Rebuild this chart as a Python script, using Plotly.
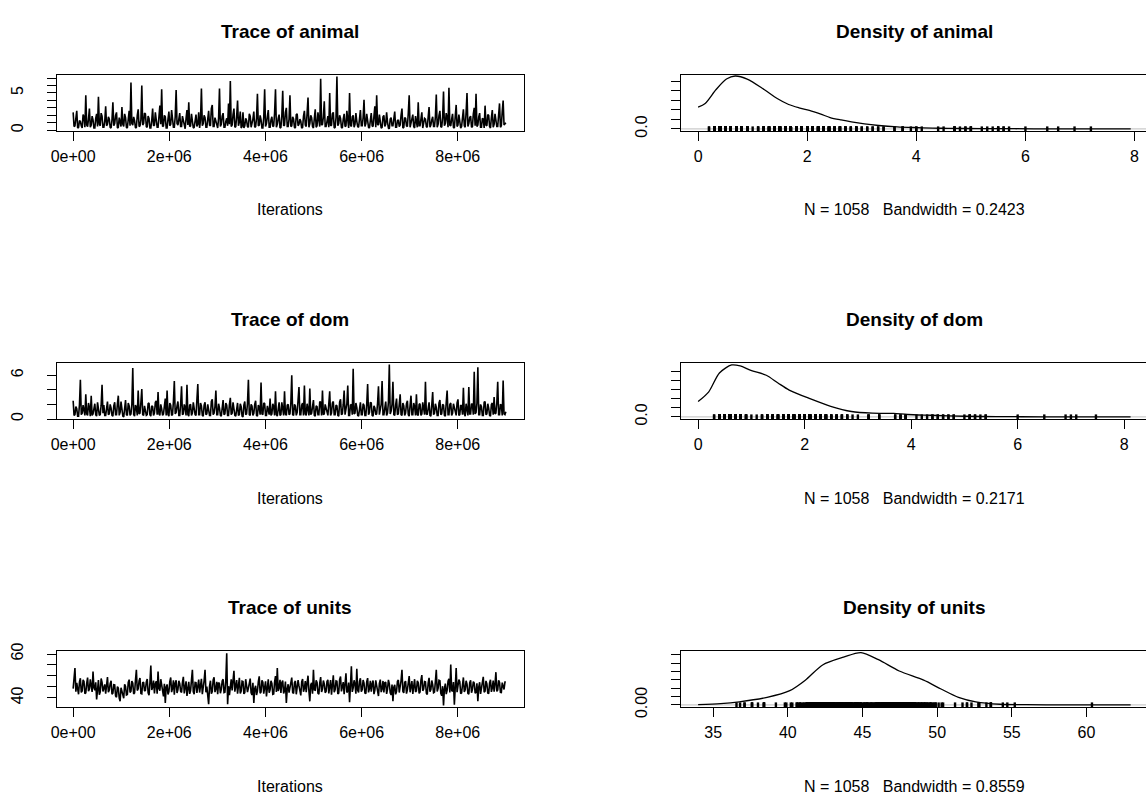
import plotly.graph_objects as go

W, H = 1146, 803

# ---- MCMC output (thinned chain), one array per parameter ----
ITER_START = 1
THIN = 18790
N_SAMPLES_LABEL = 1058

animal = [
    2.4, 0.5, 0.6, 1.7, 2.6, 0.3, 0.4, 1.3, 1.2, 0.6, 0.3, 2.1, 1.8, 0.4, 4.7, 0.7, 0.5, 1.5, 2.9, 0.4,
    0.7, 1.9, 1.4, 0.3, 0.3, 1.6, 2.2, 0.5, 4.5, 0.8, 0.6, 2.3, 1.9, 0.4, 0.4, 1.2, 3.2, 0.6, 0.8, 1.8,
    1.5, 0.4, 0.3, 1.4, 3.75, 0.6, 0.9, 2.0, 2.4, 0.3, 0.4, 1.7, 1.1, 0.5, 3.1, 0.8, 0.5, 2.2, 1.7, 0.4,
    0.3, 1.5, 2.6, 0.6, 6.4, 0.9, 0.7, 1.8, 1.3, 0.3, 0.4, 2.0, 2.8, 0.5, 0.6, 1.4, 6.0, 0.7, 0.9, 2.3,
    2.2, 0.5, 0.4, 1.9, 1.6, 0.3, 0.3, 1.3, 2.9, 0.6, 0.7, 2.4, 1.2, 0.4, 0.4, 1.6, 3.3, 0.8, 5.5, 0.5,
    0.6, 2.0, 1.8, 0.3, 0.3, 1.5, 2.5, 0.6, 0.8, 2.7, 1.4, 0.4, 0.4, 1.8, 5.4, 0.9, 0.7, 1.3, 2.3, 0.5,
    0.5, 1.9, 1.3, 0.4, 0.2, 1.6, 2.7, 0.7, 3.75, 0.5, 0.6, 2.2, 1.5, 0.3, 0.4, 1.8, 2.1, 0.5, 0.8, 2.4,
    0.3, 1.4, 5.6, 0.6, 0.9, 2.0, 1.7, 0.4, 0.4, 1.5, 2.6, 0.7, 0.6, 2.9, 3.4, 0.5, 0.5, 1.7, 1.2, 0.4,
    0.3, 1.6, 5.6, 0.5, 0.8, 1.9, 2.3, 0.4, 0.4, 1.2, 1.6, 0.6, 3.6, 0.8, 6.6, 0.5, 0.7, 2.1, 2.9, 0.4,
    0.5, 1.8, 4.0, 0.6, 1.1, 2.5, 0.3, 0.5, 2.4, 0.3, 0.6, 1.6, 1.3, 0.5, 0.4, 2.2, 1.9, 0.4, 0.8, 1.5,
    2.5, 0.4, 0.5, 1.6, 4.9, 0.6, 0.7, 2.0, 1.4, 0.3, 0.3, 1.7, 5.5, 0.5, 0.9, 2.2, 2.7, 0.4, 0.4, 1.4,
    1.8, 0.5, 0.6, 2.3, 5.5, 0.4, 0.8, 1.6, 2.1, 0.3, 0.4, 1.9, 5.3, 0.6, 0.7, 2.4, 3.0, 0.5, 0.5, 1.5,
    4.7, 0.5, 0.6, 1.8, 1.5, 0.4, 0.3, 2.1, 2.2, 0.6, 0.8, 1.5, 1.2, 0.3, 0.4, 1.9, 2.6, 0.7, 0.5, 2.3,
    4.4, 0.4, 0.9, 2.0, 1.7, 0.5, 0.3, 1.6, 2.8, 0.4, 0.6, 2.4, 1.4, 0.5, 6.9, 0.7, 0.8, 1.8, 3.9, 0.5,
    0.5, 1.4, 1.9, 0.4, 5.0, 0.6, 0.7, 2.2, 2.4, 0.3, 0.4, 1.7, 7.2, 0.6, 0.9, 2.0, 1.6, 0.4, 0.3, 1.5,
    2.2, 0.5, 0.6, 2.6, 1.4, 0.3, 5.0, 0.7, 0.5, 1.8, 2.0, 0.4, 0.8, 2.3, 1.2, 0.5, 0.4, 1.6, 2.7, 0.6,
    0.6, 1.7, 4.1, 0.5, 0.9, 2.2, 1.5, 0.4, 0.3, 1.6, 2.3, 0.6, 0.5, 1.9, 3.2, 0.4, 4.7, 0.8, 0.7, 2.1,
    1.3, 0.3, 0.4, 1.8, 2.0, 0.5, 0.8, 2.4, 1.1, 0.3, 0.2, 1.5, 1.7, 0.6, 0.6, 2.2, 2.5, 0.4, 0.4, 1.3,
    1.4, 0.5, 0.7, 2.0, 2.9, 0.3, 0.4, 1.7, 1.6, 0.6, 0.5, 2.3, 4.7, 0.4, 0.9, 1.5, 2.1, 0.5, 0.3, 1.9,
    1.3, 0.4, 3.75, 0.6, 0.6, 2.1, 2.4, 0.3, 0.8, 1.6, 1.5, 0.5, 0.4, 2.6, 3.1, 0.4, 0.7, 1.4, 1.8, 0.5,
    0.5, 1.8, 4.8, 0.4, 0.8, 2.0, 2.6, 0.5, 0.4, 1.7, 5.2, 0.6, 0.9, 2.3, 1.7, 0.4, 5.7, 0.7, 0.6, 1.5,
    2.2, 0.4, 0.3, 1.9, 3.4, 0.5, 0.7, 2.1, 1.4, 0.3, 0.5, 1.6, 2.8, 0.6, 0.4, 2.4, 5.0, 0.5, 0.9, 1.7,
    1.9, 0.4, 0.5, 2.2, 3.0, 0.6, 4.9, 0.5, 0.7, 1.8, 2.3, 0.4, 0.4, 1.6, 1.5, 0.3, 3.3, 0.7, 0.6, 2.1,
    2.0, 0.5, 0.3, 1.7, 2.7, 0.4, 0.8, 2.2, 1.4, 0.5, 0.5, 1.9, 3.6, 0.4, 0.6, 2.5, 4.0, 0.7, 0.8, 1.0,
]

dom = [
    2.5, 0.5, 0.6, 1.7, 1.4, 0.4, 0.4, 2.0, 5.4, 0.6, 0.8, 1.9, 1.2, 0.5, 3.4, 0.7, 0.5, 2.2, 1.6, 0.4,
    3.2, 0.5, 0.7, 1.8, 2.1, 0.6, 0.4, 2.3, 1.3, 0.5, 0.6, 1.9, 4.7, 0.8, 1.9, 0.5, 0.5, 1.6, 2.4, 0.6,
    0.7, 2.0, 1.5, 0.5, 0.4, 1.8, 2.3, 0.6, 0.6, 2.1, 3.2, 0.5, 0.9, 2.4, 1.4, 0.4, 0.3, 1.7, 2.6, 0.6,
    0.5, 2.2, 1.8, 0.5, 0.7, 2.0, 7.0, 0.6, 0.4, 1.9, 1.6, 0.5, 3.9, 0.7, 0.8, 2.3, 4.1, 0.6, 0.5, 1.8,
    1.3, 0.5, 0.6, 2.1, 2.2, 0.6, 0.4, 1.8, 1.7, 0.5, 0.8, 2.3, 2.5, 0.6, 3.7, 0.7, 0.5, 2.0, 1.4, 0.5,
    0.7, 2.1, 2.8, 0.5, 3.9, 0.6, 0.4, 2.2, 1.9, 0.5, 0.6, 2.4, 5.2, 0.7, 0.9, 1.8, 2.4, 0.5, 0.5, 2.0,
    4.5, 0.6, 0.7, 2.0, 1.6, 0.5, 4.7, 0.6, 0.4, 1.9, 2.0, 0.5, 0.8, 2.3, 1.3, 0.6, 0.5, 2.1, 4.8, 0.6,
    0.6, 2.2, 1.8, 0.5, 0.4, 1.9, 2.3, 0.6, 0.7, 2.0, 1.2, 0.5, 0.5, 2.4, 2.7, 0.6, 0.8, 1.7, 3.9, 0.6,
    0.6, 2.1, 1.5, 0.5, 0.4, 1.9, 2.6, 0.6, 0.7, 2.2, 1.9, 0.5, 0.5, 2.0, 2.9, 0.6, 0.8, 2.3, 1.4, 0.5,
    0.4, 1.8, 2.2, 0.5, 0.6, 2.1, 1.7, 0.4, 0.3, 1.9, 2.4, 0.6, 0.7, 2.2, 5.4, 0.6, 0.5, 2.0, 1.8, 0.5,
    0.8, 2.0, 2.5, 0.5, 0.4, 1.9, 1.6, 0.6, 5.0, 0.7, 0.6, 2.2, 2.1, 0.5, 0.5, 1.8, 1.3, 0.6, 2.8, 0.5,
    0.7, 2.1, 1.7, 0.5, 3.8, 0.6, 0.4, 2.0, 2.3, 0.5, 0.6, 2.3, 1.5, 0.5, 3.8, 0.7, 0.5, 1.9, 2.0, 0.6,
    0.7, 2.2, 6.0, 0.6, 0.5, 2.0, 1.8, 0.5, 0.9, 2.3, 4.4, 0.6, 0.6, 1.9, 2.2, 0.5, 4.6, 0.7, 0.5, 2.1,
    1.4, 0.5, 4.2, 0.6, 0.8, 2.2, 2.6, 0.5, 0.4, 1.8, 1.7, 0.6, 0.6, 2.4, 2.3, 0.5, 3.9, 0.6, 0.7, 2.0,
    1.5, 0.6, 0.5, 2.1, 3.8, 0.5, 0.8, 2.2, 2.4, 0.6, 0.6, 1.9, 1.8, 0.5, 0.4, 2.3, 2.7, 0.6, 0.7, 2.0,
    3.9, 0.6, 1.2, 2.1, 4.6, 0.5, 0.5, 1.9, 2.0, 0.6, 6.9, 0.7, 0.8, 2.2, 1.6, 0.5, 0.4, 2.0, 2.3, 0.6,
    0.6, 2.1, 1.9, 0.5, 0.5, 2.0, 4.8, 0.6, 0.9, 2.3, 2.2, 0.5, 0.4, 1.8, 1.5, 0.6, 0.7, 2.2, 4.5, 0.6,
    1.3, 2.0, 5.2, 0.6, 0.6, 2.1, 2.4, 0.5, 0.8, 2.3, 7.47, 0.7, 1.1, 2.0, 5.1, 0.6, 0.5, 1.9, 2.8, 0.6,
    0.7, 2.0, 3.4, 0.6, 0.5, 2.2, 1.8, 0.5, 0.8, 2.1, 2.5, 0.6, 0.4, 1.9, 3.2, 0.6, 0.6, 2.2, 1.7, 0.5,
    3.4, 0.6, 0.5, 2.0, 2.1, 0.5, 0.7, 2.3, 1.4, 0.6, 5.1, 0.7, 0.6, 2.0, 2.3, 0.5, 0.4, 1.9, 3.7, 0.6,
    0.8, 2.1, 1.6, 0.5, 0.5, 2.2, 2.6, 0.6, 0.7, 2.0, 1.9, 0.5, 0.4, 2.3, 3.9, 0.6, 0.6, 2.0, 2.2, 0.5,
    0.8, 2.1, 1.5, 0.6, 0.5, 2.2, 2.7, 0.5, 0.6, 1.9, 1.8, 0.6, 4.3, 0.7, 0.4, 2.1, 1.3, 0.5, 4.4, 0.7,
    0.7, 2.1, 2.0, 0.6, 6.5, 0.7, 0.9, 2.2, 7.1, 0.6, 0.6, 2.0, 1.7, 0.5, 0.5, 2.3, 2.4, 0.6, 0.7, 2.1,
    1.5, 0.5, 0.4, 2.0, 2.2, 0.6, 3.0, 0.7, 0.8, 2.2, 5.1, 0.6, 0.6, 2.0, 1.9, 0.5, 5.3, 0.7, 0.6, 1.0,
]

units = [
    44.2, 47.9, 53.6, 42.8, 46.8, 44.1, 41.6, 47.3, 48.9, 42.5, 43.1, 48.2, 47.5, 41.9, 42.3, 46.6, 49.2, 43.0, 44.0, 48.4,
    46.3, 42.7, 52.0, 44.6, 43.5, 47.1, 39.2, 45.8, 48.1, 41.4, 42.7, 48.8, 47.0, 42.9, 44.8, 46.1, 41.9, 47.4, 49.5, 42.6,
    43.6, 46.5, 47.8, 41.7, 42.1, 46.0, 45.9, 40.8, 40.3, 45.1, 44.5, 39.9, 38.4, 44.6, 42.9, 40.6, 39.8, 46.2, 45.2, 41.3,
    41.5, 47.0, 48.3, 42.4, 43.0, 47.6, 46.7, 41.8, 42.2, 48.1, 52.8, 43.3, 44.1, 47.7, 49.0, 42.0, 41.8, 46.9, 47.2, 43.1,
    43.4, 47.2, 48.6, 42.3, 41.2, 46.8, 54.7, 43.6, 44.9, 47.9, 42.0, 46.3, 47.6, 41.9, 52.0, 44.2, 43.2, 48.5, 45.8, 41.6,
    40.7, 46.4, 37.6, 45.0, 46.1, 41.5, 42.8, 47.4, 49.3, 42.6, 44.3, 48.0, 41.4, 46.7, 48.0, 42.2, 43.7, 47.8, 46.5, 42.9,
    42.5, 47.1, 49.6, 42.0, 44.0, 47.5, 40.9, 45.6, 47.3, 41.8, 43.3, 48.1, 52.8, 42.7, 41.6, 47.0, 46.9, 42.2, 44.6, 48.3,
    42.4, 46.6, 48.7, 41.7, 43.9, 47.9, 52.8, 42.5, 45.1, 40.2, 37.1, 45.4, 47.8, 41.9, 42.9, 48.2, 49.4, 42.6, 44.2, 47.3,
    41.7, 47.0, 46.4, 42.1, 43.8, 47.7, 48.5, 42.4, 42.6, 48.0, 60.37, 37.1, 45.3, 41.2, 45.7, 48.4, 43.4, 47.1, 52.3, 42.8,
    44.7, 48.1, 41.9, 46.3, 49.1, 42.0, 43.1, 47.6, 47.4, 41.8, 42.3, 48.5, 46.0, 42.6, 44.4, 47.9, 48.8, 42.3, 41.3, 46.8,
    37.6, 44.2, 45.5, 41.3, 43.0, 47.4, 49.8, 42.1, 42.7, 48.0, 47.1, 41.9, 44.1, 47.5, 40.6, 45.2, 48.4, 42.3, 43.6, 47.8,
    46.6, 41.6, 41.8, 47.2, 49.9, 42.7, 53.6, 43.1, 44.5, 48.2, 42.2, 46.9, 47.9, 42.0, 43.3, 47.4, 37.6, 44.0, 46.2, 42.4,
    44.8, 48.3, 49.2, 42.5, 42.0, 46.9, 47.7, 41.6, 43.9, 48.1, 45.4, 42.2, 41.1, 47.3, 48.6, 42.8, 44.3, 47.6, 42.6, 46.7,
    50.1, 43.0, 38.4, 45.9, 46.8, 41.9, 52.8, 43.6, 43.5, 48.0, 47.0, 42.1, 41.7, 46.8, 49.5, 42.7, 44.0, 47.9, 46.3, 42.3,
    42.9, 47.4, 48.2, 42.0, 44.6, 48.1, 41.4, 46.5, 50.3, 42.6, 43.7, 47.7, 47.5, 41.8, 42.1, 48.3, 49.7, 42.9, 44.9, 47.2,
    41.6, 46.8, 51.2, 42.4, 43.2, 47.0, 38.0, 45.6, 54.4, 42.7, 44.5, 48.0, 46.1, 41.9, 53.3, 43.4, 42.4, 47.5, 48.9, 42.8,
    43.8, 48.1, 46.7, 42.2, 41.9, 47.3, 49.0, 42.5, 44.2, 47.8, 42.8, 46.4, 47.9, 41.7, 43.5, 48.0, 45.6, 42.1, 40.8, 46.6,
    48.3, 42.6, 44.1, 47.7, 42.5, 46.9, 47.2, 41.8, 43.9, 48.2, 46.4, 42.3, 41.3, 46.0, 38.4, 44.8, 45.9, 41.6, 43.0, 47.5,
    48.1, 42.4, 44.4, 47.9, 52.8, 43.0, 42.2, 47.1, 47.6, 41.9, 43.6, 48.4, 49.9, 42.5, 44.7, 47.6, 41.8, 46.3, 48.5, 42.7,
    43.1, 47.8, 46.9, 42.0, 42.7, 48.1, 50.4, 43.2, 44.0, 47.4, 47.3, 42.1, 41.5, 46.7, 49.1, 42.8, 43.8, 47.9, 46.0, 42.3,
    42.6, 47.5, 52.8, 42.9, 44.3, 48.0, 47.8, 42.0, 41.0, 45.3, 36.56, 44.1, 46.5, 41.7, 43.4, 47.6, 48.7, 42.4, 55.2, 43.5,
    42.9, 47.2, 36.8, 44.7, 53.6, 42.6, 44.6, 48.3, 47.4, 41.9, 42.3, 47.0, 49.3, 42.7, 43.7, 47.8, 46.2, 42.0, 41.6, 46.9,
    48.0, 42.3, 43.9, 47.4, 46.8, 42.1, 42.5, 46.6, 38.4, 44.9, 47.1, 41.8, 44.2, 48.1, 49.6, 42.6, 43.0, 47.7, 46.4, 42.2,
    41.9, 46.8, 48.2, 42.7, 44.5, 47.9, 42.8, 46.3, 51.7, 42.9, 43.6, 48.0, 47.0, 42.5, 42.4, 46.9, 45.3, 43.8, 47.2, 47.2,
]

# ---- kernel density estimates (evaluation grid and height) ----
animal_dens_x = [0.0, 0.13, 0.33, 0.52, 0.68, 0.90, 1.21, 1.45, 1.66, 1.85, 2.04, 2.25, 2.42, 2.62,
                 2.81, 3.05, 3.31, 3.65, 3.95, 4.3, 4.58, 5.2, 5.8, 6.5, 7.2, 7.93]
animal_dens_y = [0.23, 0.268, 0.415, 0.525, 0.557, 0.525, 0.415, 0.32, 0.257, 0.222, 0.194, 0.155, 0.12, 0.094,
                 0.073, 0.052, 0.036, 0.022, 0.015, 0.009, 0.006, 0.003, 0.002, 0.001, 0.0005, 0.0]
dom_dens_x = [0.0, 0.2, 0.4, 0.63, 0.79, 0.99, 1.28, 1.5, 1.71, 2.1, 2.49, 2.88, 3.27, 3.67, 3.93,
              4.38, 5.0, 5.6, 6.5, 7.3, 8.12]
dom_dens_y = [0.168, 0.274, 0.48, 0.567, 0.556, 0.507, 0.455, 0.37, 0.293, 0.199, 0.116, 0.059, 0.041, 0.038,
              0.026, 0.018, 0.007, 0.003, 0.001, 0.0005, 0.0]
units_dens_x = [33.99, 35.5, 36.75, 38.61, 40.13, 41.17, 42.33, 43.73, 44.9, 46.07, 47.46, 49.1, 50.26,
                51.43, 52.59, 54.22, 56.0, 58.5, 61.0, 62.96]
units_dens_y = [0.0005, 0.003, 0.0073, 0.018, 0.034, 0.059, 0.0955, 0.114, 0.125, 0.108, 0.081, 0.059, 0.038,
                0.018, 0.0073, 0.0016, 0.0005, 0.0002, 0.0001, 0.0]

bandwidths = ["0.2423", "0.2171", "0.8559"]
param_names = ["animal", "dom", "units"]

trace_xticks = [0, 2e6, 4e6, 6e6, 8e6]
trace_xticktext = ["0e+00", "2e+06", "4e+06", "6e+06", "8e+06"]

trace_yticks = [[0, 1, 2, 3, 4, 5, 6, 7], [0, 2, 4, 6], [40, 45, 50, 55, 60]]
trace_yticktext = [["0", "", "", "", "", "5", "", ""], ["0", "", "", "6"], ["40", "", "", "", "60"]]
dens_xticks = [[0, 2, 4, 6, 8], [0, 2, 4, 6, 8], [35, 40, 45, 50, 55, 60]]
dens_yticks = [[0, 0.1, 0.2, 0.3, 0.4, 0.5], [0, 0.1, 0.2, 0.3, 0.4, 0.5],
               [0, 0.02, 0.04, 0.06, 0.08, 0.10, 0.12]]
dens_yticktext = [["0.0", "", "", "", "", ""], ["0.0", "", "", "", "", ""],
                  ["0.00", "", "", "", "", "", ""]]

# ---- panel geometry (pixels) ----
LEFT_X = (56.8, 524.1)
RIGHT_X = (680.8, 1146.0)
ROWS_Y = [(74.5, 131.0), (362.5, 419.0), (650.5, 707.0)]

trace_xrange = [-0.34e6, 9.38e6]
trace_yranges = [[-0.1, 7.48], [0.0, 7.76], [35.8, 61.6]]
dens_xranges = [[-0.317, 8.21], [-0.325, 8.41], [32.83, 63.99]]
dens_yranges = [[-0.022, 0.573], [-0.023, 0.594], [-0.005, 0.130]]

FONT = "Liberation Sans, Arial, Helvetica, sans-serif"


def fx(p):
    return p / W


def fy(p):
    return 1 - p / H


traces = [animal, dom, units]
dens_x = [animal_dens_x, dom_dens_x, units_dens_x]
dens_y = [animal_dens_y, dom_dens_y, units_dens_y]
iterations = [ITER_START + THIN * i for i in range(len(animal))]

fig = go.Figure()
layout = {}
shapes = []
annotations = []

axis_common = dict(
    showline=True, linecolor="black", linewidth=1,
    ticks="outside", ticklen=9, tickwidth=1, tickcolor="black",
    showgrid=False, zeroline=False, automargin=False, fixedrange=True,
    tickfont=dict(family=FONT, size=16, color="black"),
)

for r in range(3):
    top, bot = ROWS_Y[r]
    kt = 2 * r + 1   # trace panel axis index
    kd = 2 * r + 2   # density panel axis index

    # trace plot
    fig.add_trace(go.Scatter(
        x=iterations, y=traces[r], mode="lines",
        line=dict(color="black", width=1.6),
        xaxis=f"x{kt}", yaxis=f"y{kt}", hoverinfo="skip", showlegend=False))

    layout[f"xaxis{kt}"] = dict(
        axis_common, domain=[fx(LEFT_X[0]), fx(LEFT_X[1])], anchor=f"y{kt}",
        range=trace_xrange, mirror=True,
        tickvals=trace_xticks, ticktext=trace_xticktext, ticklabelstandoff=2)
    layout[f"yaxis{kt}"] = dict(
        axis_common, domain=[fy(bot), fy(top)], anchor=f"x{kt}",
        range=trace_yranges[r], mirror=True,
        tickvals=trace_yticks[r], ticktext=trace_yticktext[r],
        tickangle=-90, ticklabelstandoff=17)

    # density plot: zero line, rug of the sampled values, density curve
    dyr = dens_yranges[r]
    rug_y = dyr[0] + (dyr[1] - dyr[0]) * 1.8 / (bot - top)
    shapes.append(dict(type="line", xref=f"x{kd}", yref=f"y{kd}",
                       x0=dens_xranges[r][0], x1=dens_xranges[r][1], y0=0, y1=0,
                       line=dict(color="#bebebe", width=1), layer="below"))
    fig.add_trace(go.Scatter(
        x=traces[r], y=[rug_y] * len(traces[r]), mode="markers",
        marker=dict(symbol="line-ns", size=4, color="black",
                    line=dict(width=2.4, color="black")),
        xaxis=f"x{kd}", yaxis=f"y{kd}", hoverinfo="skip", showlegend=False,
        cliponaxis=False))
    fig.add_trace(go.Scatter(
        x=dens_x[r], y=dens_y[r], mode="lines",
        line=dict(color="black", width=1.3, shape="spline", smoothing=0.8),
        xaxis=f"x{kd}", yaxis=f"y{kd}", hoverinfo="skip", showlegend=False))

    layout[f"xaxis{kd}"] = dict(
        axis_common, domain=[fx(RIGHT_X[0]), fx(RIGHT_X[1])], anchor=f"y{kd}",
        range=dens_xranges[r], mirror=True,
        tickvals=dens_xticks[r], ticklabelstandoff=2)
    layout[f"yaxis{kd}"] = dict(
        axis_common, domain=[fy(bot), fy(top)], anchor=f"x{kd}",
        range=dyr, mirror=False,
        tickvals=dens_yticks[r], ticktext=dens_yticktext[r],
        tickangle=-90, ticklabelstandoff=17)

    # titles and axis labels
    cx_left = (LEFT_X[0] + LEFT_X[1]) / 2
    cx_right = (680.8 + 1148.0) / 2
    title_y = top - 43
    xlab_y = bot + 79
    annotations.append(dict(x=fx(cx_left), y=fy(title_y), xref="paper", yref="paper",
                            text=f"<b>Trace of {param_names[r]}</b>", showarrow=False,
                            xanchor="center", yanchor="middle",
                            font=dict(family=FONT, size=19, color="black")))
    annotations.append(dict(x=fx(cx_right), y=fy(title_y), xref="paper", yref="paper",
                            text=f"<b>Density of {param_names[r]}</b>", showarrow=False,
                            xanchor="center", yanchor="middle",
                            font=dict(family=FONT, size=19, color="black")))
    annotations.append(dict(x=fx(cx_left), y=fy(xlab_y), xref="paper", yref="paper",
                            text="Iterations", showarrow=False,
                            xanchor="center", yanchor="middle",
                            font=dict(family=FONT, size=16, color="black")))
    annotations.append(dict(x=fx(cx_right), y=fy(xlab_y), xref="paper", yref="paper",
                            text=f"N = {N_SAMPLES_LABEL}   Bandwidth = {bandwidths[r]}",
                            showarrow=False, xanchor="center", yanchor="middle",
                            font=dict(family=FONT, size=16, color="black")))

fig.update_layout(
    width=W, height=H, autosize=False,
    margin=dict(l=0, r=0, t=0, b=0, pad=0),
    paper_bgcolor="white", plot_bgcolor="white",
    showlegend=False, shapes=shapes, annotations=annotations,
    **layout,
)

fig.write_html("out.html", config={"displayModeBar": False, "staticPlot": True})
